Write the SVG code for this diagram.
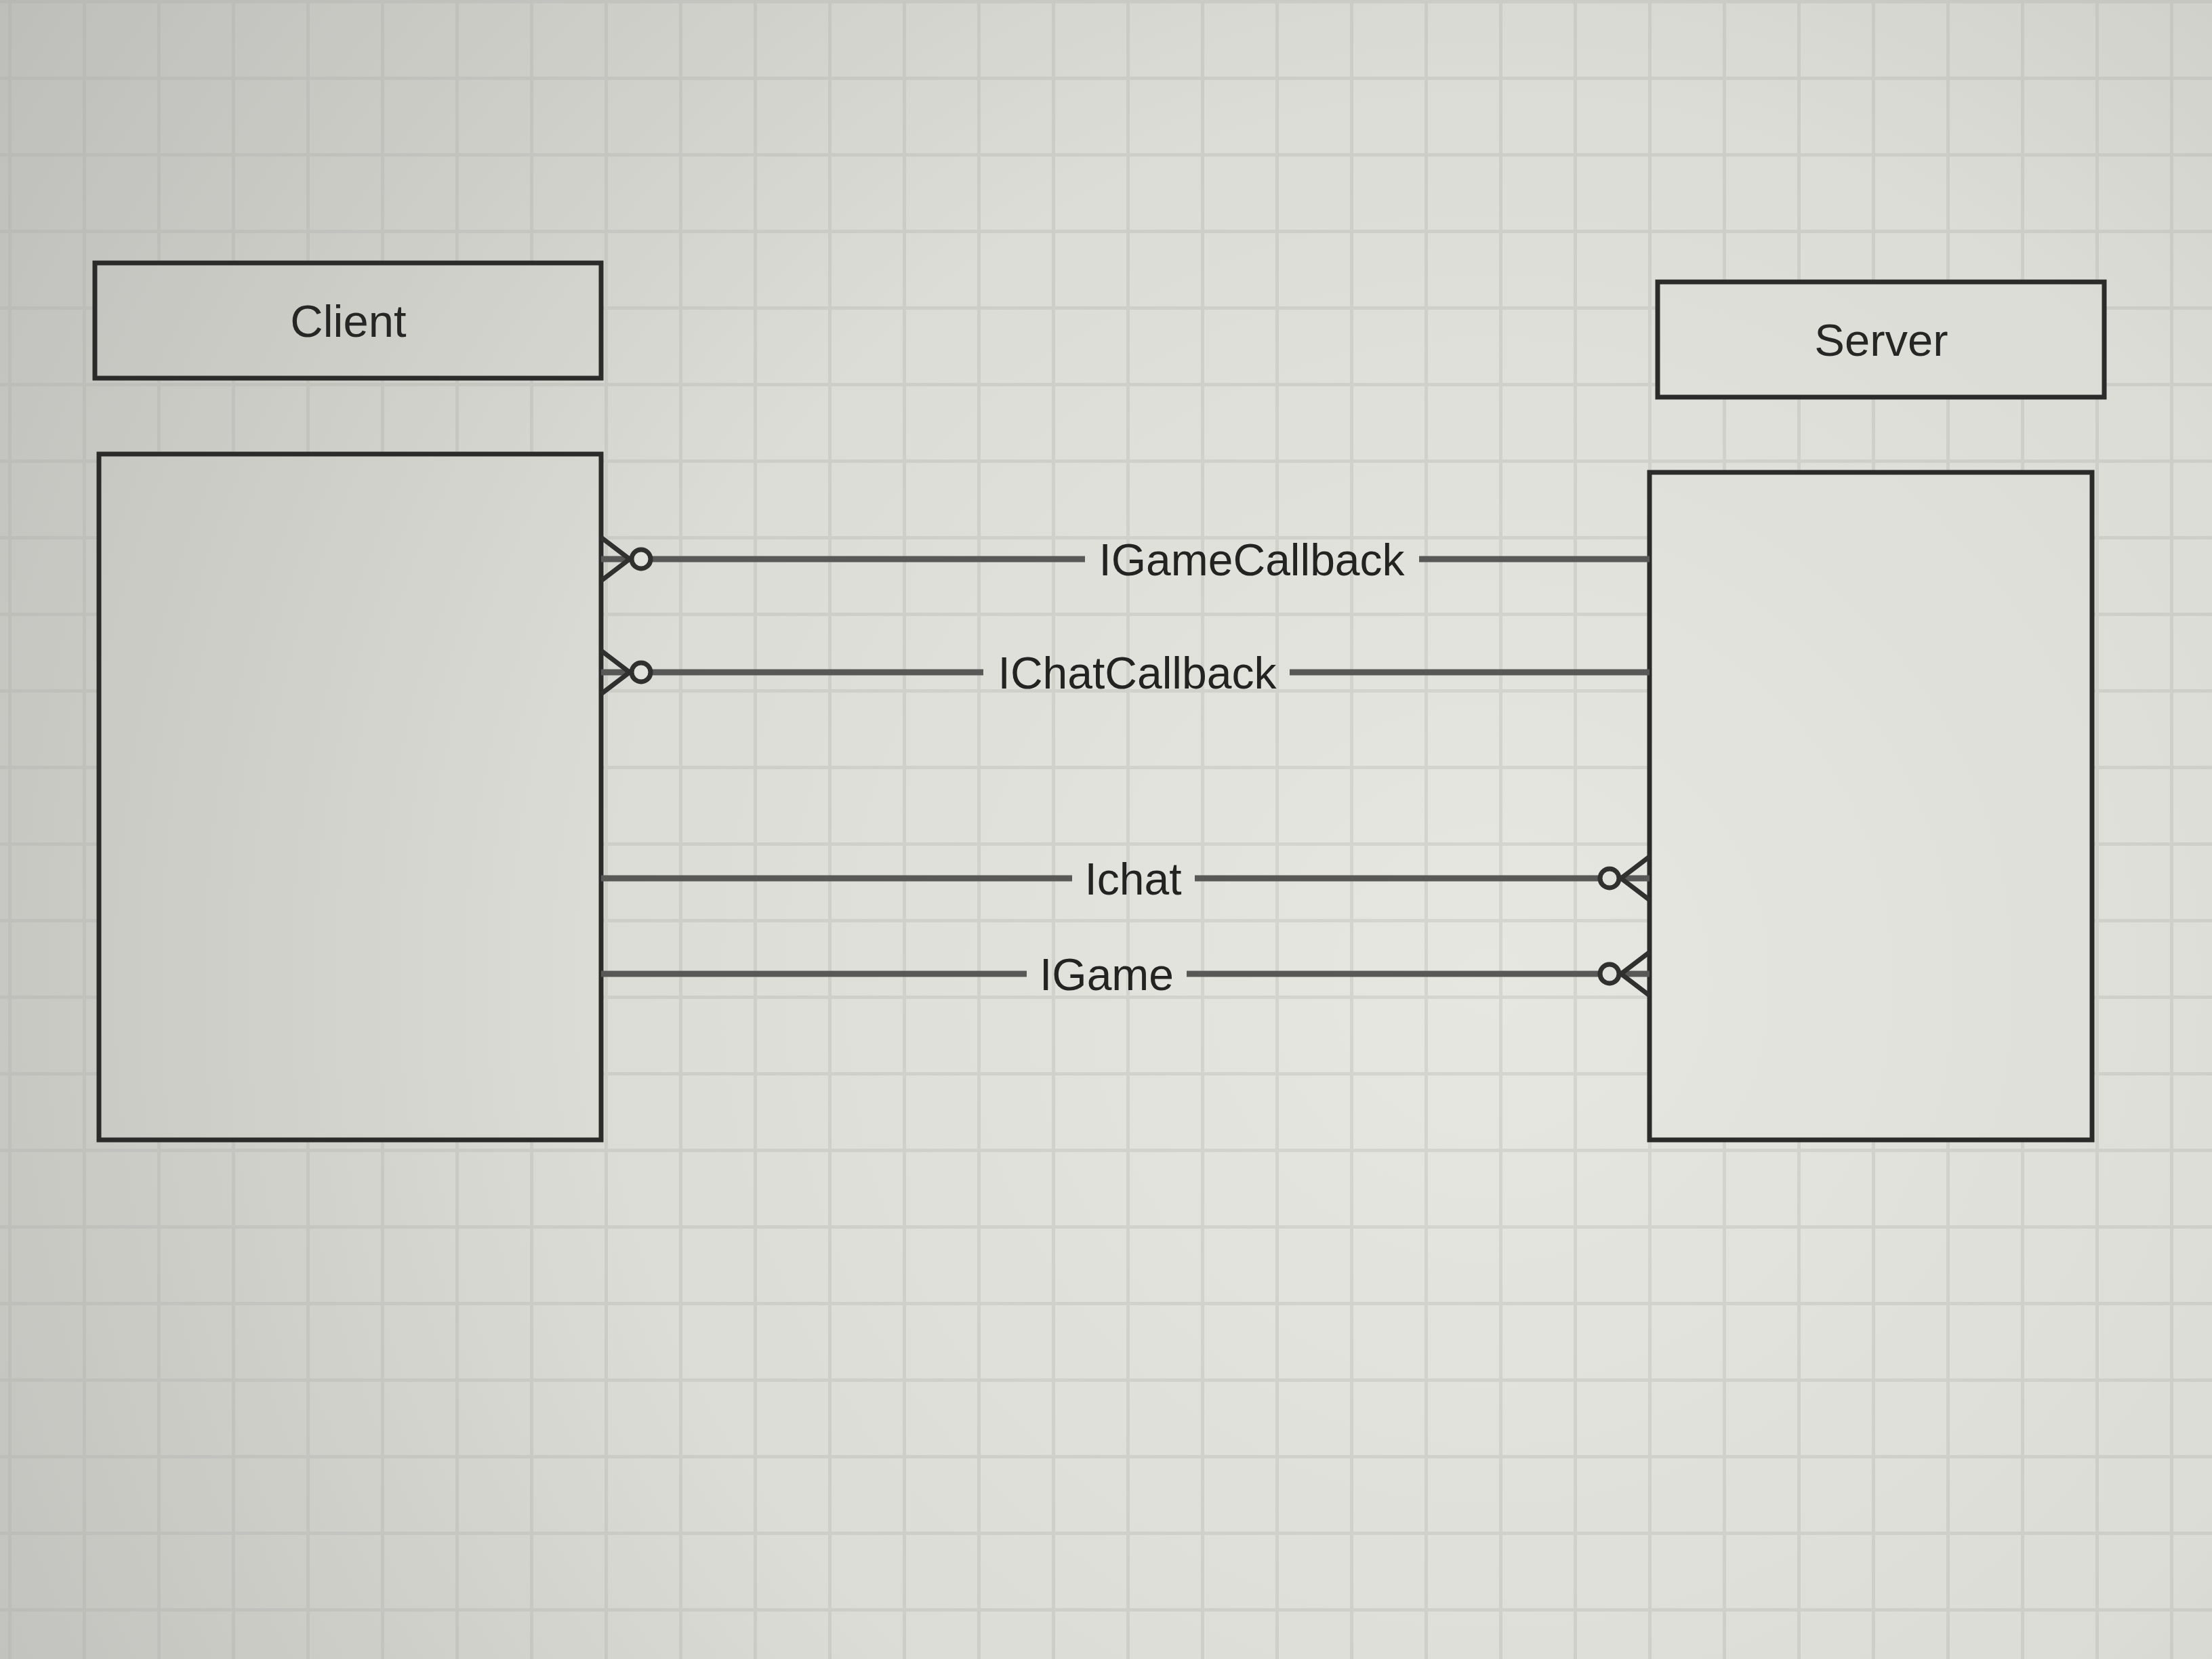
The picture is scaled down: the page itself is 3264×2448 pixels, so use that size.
<svg xmlns="http://www.w3.org/2000/svg" width="3264" height="2448" viewBox="0 0 3264 2448">
  <defs>
    <radialGradient id="bg" gradientUnits="userSpaceOnUse" cx="2200" cy="1450" r="2650">
      <stop offset="0" stop-color="#e7e7e1"/>
      <stop offset="0.5" stop-color="#dcdcd6"/>
      <stop offset="1" stop-color="#bdbdb9"/>
    </radialGradient>
    <pattern id="grid" patternUnits="userSpaceOnUse" x="12" y="0" width="110" height="113">
      <path d="M2.5,0 V113 M0,2.5 H110" stroke="#a9a9a4" stroke-width="5" opacity="0.28" fill="none"/>
    </pattern>
    <marker id="zeroMany" markerUnits="userSpaceOnUse" viewBox="-80 -40 90 80" refX="0" refY="0" markerWidth="90" markerHeight="80" orient="auto-start-reverse" overflow="visible">
      <path d="M0,-32 L-42,0 L0,32" fill="none" stroke="#30302e" stroke-width="7" stroke-linejoin="round"/>
      <circle cx="-59" cy="0" r="14" fill="#e2e2dc" stroke="#30302e" stroke-width="7"/>
    </marker>
    <style>
      .box { fill: url(#bg); stroke: #2b2b29; stroke-width: 7; }
      .title { font-family: "Liberation Sans", Arial, sans-serif; font-size: 67px; fill: #262624; text-anchor: middle; }
      .conn { fill: none; stroke: #585856; stroke-width: 9; }
      .lbl { font-family: "Liberation Sans", Arial, sans-serif; font-size: 66px; fill: #232321; text-anchor: middle; }
    </style>
  </defs>

  <rect x="0" y="0" width="3264" height="2448" fill="url(#bg)"/>
  <rect x="0" y="0" width="3264" height="2448" fill="url(#grid)"/>

  <g id="client-header">
    <rect class="box" x="140" y="388" width="747" height="170"/>
    <text class="title" x="514" y="497">Client</text>
  </g>
  <g id="client-body">
    <rect class="box" x="146" y="670" width="741" height="1012"/>
  </g>
  <g id="server-header">
    <rect class="box" x="2446" y="416" width="659" height="170"/>
    <text class="title" x="2776" y="525">Server</text>
  </g>
  <g id="server-body">
    <rect class="box" x="2434" y="697" width="653" height="985"/>
  </g>

  <g id="connectors">
    <g id="conn-igamecallback">
      <path class="conn" d="M887,825 H1601" marker-start="url(#zeroMany)"/>
      <path class="conn" d="M2094,825 H2434"/>
      <text class="lbl" x="1847" y="849">IGameCallback</text>
    </g>
    <g id="conn-ichatcallback">
      <path class="conn" d="M887,992 H1451" marker-start="url(#zeroMany)"/>
      <path class="conn" d="M1903,992 H2434"/>
      <text class="lbl" x="1678" y="1016">IChatCallback</text>
    </g>
    <g id="conn-ichat">
      <path class="conn" d="M887,1296 H1582"/>
      <path class="conn" d="M1763,1296 H2434" marker-end="url(#zeroMany)"/>
      <text class="lbl" x="1672" y="1320">Ichat</text>
    </g>
    <g id="conn-igame">
      <path class="conn" d="M887,1437 H1515"/>
      <path class="conn" d="M1751,1437 H2434" marker-end="url(#zeroMany)"/>
      <text class="lbl" x="1633" y="1461">IGame</text>
    </g>
  </g>
</svg>
